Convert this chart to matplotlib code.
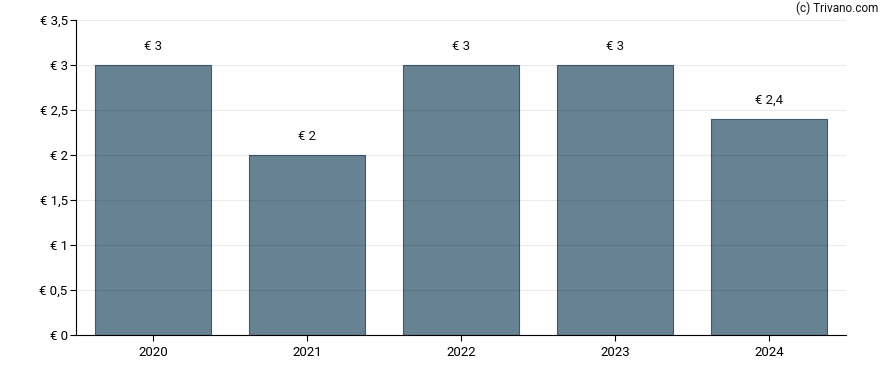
import matplotlib
matplotlib.use('Agg')
import matplotlib.pyplot as plt

plt.rcParams['font.family'] = ['Roboto', 'DejaVu Sans']

#dividend per year
years = ['2020', '2021', '2022', '2023', '2024']
values = [3, 2, 3, 3, 2.4]
labels = ['€ 3', '€ 2', '€ 3', '€ 3', '€ 2,4']
yticks = [0, 0.5, 1, 1.5, 2, 2.5, 3, 3.5]
ytick_labels = ['€ 0', '€ 0,5', '€ 1', '€ 1,5', '€ 2', '€ 2,5', '€ 3', '€ 3,5']

fig = plt.figure(figsize=(8.88, 3.70), dpi=100)
ax = fig.add_axes([76/888, 1 - 335/370, (846-76)/888, (335-20)/370])

x = range(len(years))
ax.bar(x, values, width=0.75, color='#668293', edgecolor='#3f5a6e', linewidth=0.8, zorder=2)

for i, txt in enumerate(labels):
    ax.annotate(txt, (i, values[i]), textcoords='offset points', xytext=(0, 9),
                ha='center', va='bottom', fontsize=9.5, color='#111111')

ax.set_xlim(-0.5, 4.5)
ax.set_ylim(0, 3.5)
ax.set_xticks(list(x))
ax.set_xticklabels(years, fontsize=9.5)
ax.set_yticks(yticks)
ax.set_yticklabels(ytick_labels, fontsize=9.5)
ax.set_axisbelow(False)
ax.yaxis.grid(True, color='black', alpha=0.08, linewidth=0.8)
ax.spines['top'].set_visible(False)
ax.spines['right'].set_visible(False)
ax.tick_params(axis='y', length=4, width=0.8, pad=2)
ax.tick_params(axis='x', length=4, width=0.8, pad=4)

fig.text(1 - 10/888, 1 - 8/370, '(c) Trivano.com', ha='right', va='center', fontsize=8.5, color='#111111')

plt.savefig('out.png', dpi=100)
